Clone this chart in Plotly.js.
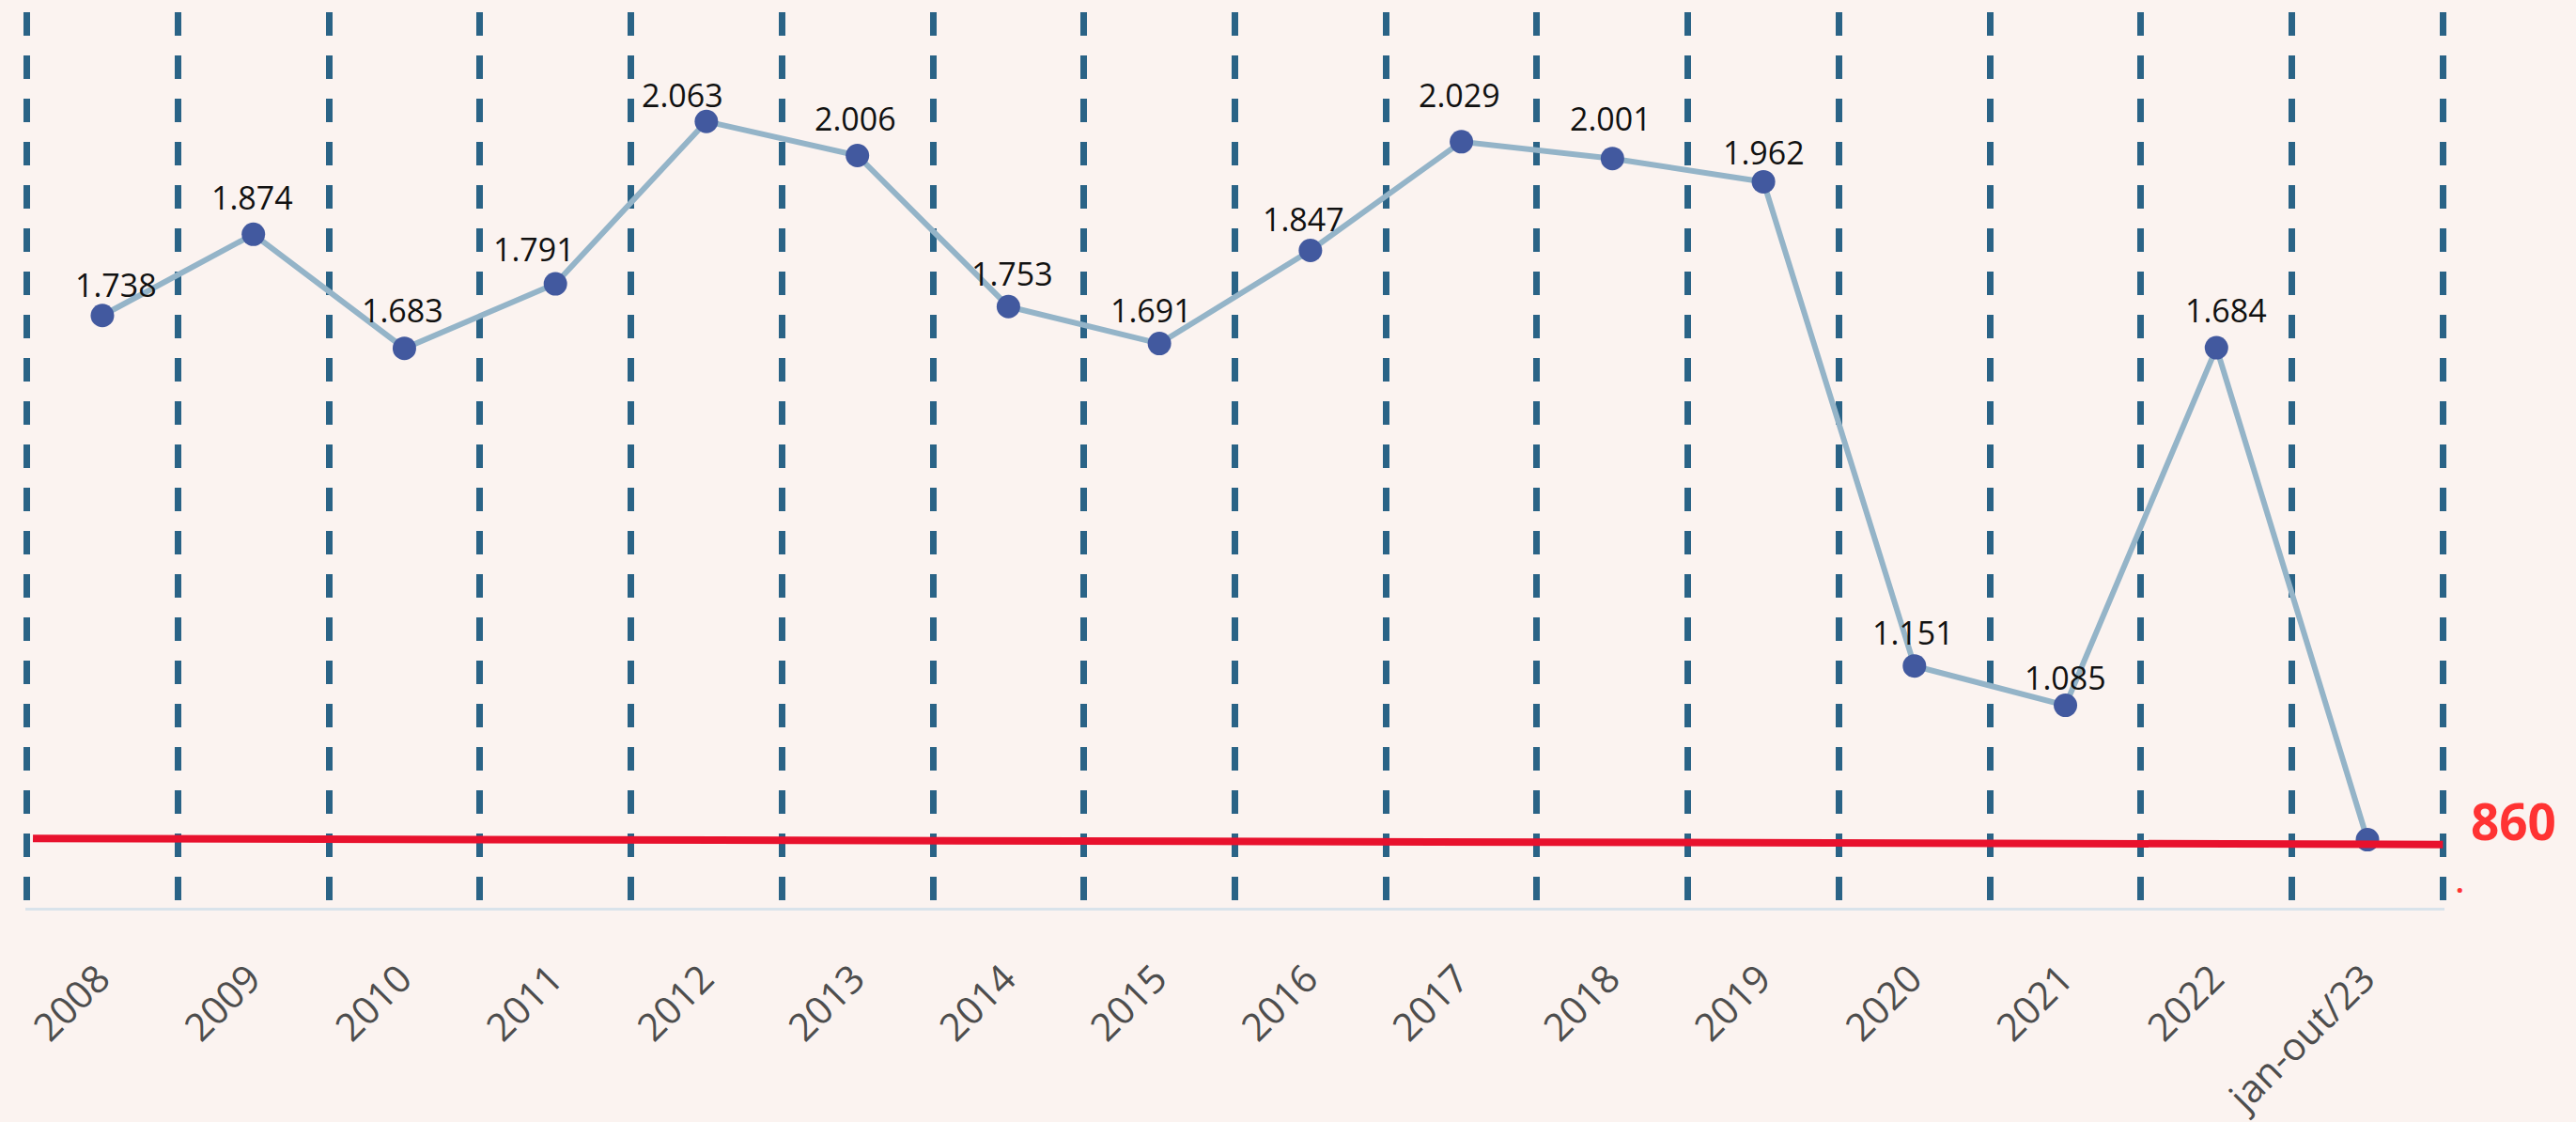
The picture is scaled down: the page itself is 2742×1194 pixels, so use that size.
<!DOCTYPE html>
<html>
<head>
<meta charset="utf-8">
<script src="https://cdn.plot.ly/plotly-3.0.1.min.js"></script>
<style>
  html, body { margin: 0; padding: 0; background: #fbf3f0; }
  #chart { width: 2742px; height: 1194px; }
</style>
</head>
<body>
<div id="chart"></div>
<script>
const categories = ['2008','2009','2010','2011','2012','2013','2014','2015','2016','2017','2018','2019','2020','2021','2022','jan-out/23'];
const values = [1738, 1874, 1683, 1791, 2063, 2006, 1753, 1691, 1847, 2029, 2001, 1962, 1151, 1085, 1684, 860];
const highlightValue = values[values.length - 1];
const referenceLine = [862, 852];

// pixel nudges of the value labels (style only)
const labelDx = [15, -1, -2, -23, -25, -2, 4, -9, -7, -2, -2, 0, -1, 0, 10];
const labelGap = [21, 27, 29, 25, 16, 27, 23, 24, 22, 38, 31, 19, 24, 18, 28];

function fmt(v) {
  return String(v).replace(/\B(?=(\d{3})+(?!\d))/g, '.');
}

const trace = {
  type: 'scatter',
  mode: 'lines+markers',
  x: categories,
  y: values,
  line: { color: '#94b4c8', width: 6 },
  marker: { color: '#42599f', size: 25 },
  cliponaxis: false,
  hoverinfo: 'skip'
};

const valueLabels = labelDx.map((dx, i) => ({
  xref: 'x', yref: 'y',
  x: i, y: values[i],
  xanchor: 'center', yanchor: 'middle',
  xshift: dx, yshift: labelGap[i] + 12,
  text: fmt(values[i]),
  showarrow: false,
  font: { family: 'Open Sans', size: 34, color: '#111111' }
}));

const layout = {
  width: 2742,
  height: 1194,
  paper_bgcolor: '#fbf3f0',
  plot_bgcolor: '#fbf3f0',
  margin: { l: 27, r: 140, t: 13, b: 228 },
  showlegend: false,
  font: { family: 'Open Sans', color: '#4d4d4d' },
  xaxis: {
    type: 'category',
    range: [-0.51, 15.51],
    tickson: 'boundaries',
    showgrid: true,
    gridcolor: '#2a6386',
    gridwidth: 7,
    griddash: '25px,21px',
    showline: true,
    linecolor: '#d9e3eb',
    linewidth: 3,
    ticks: '',
    tickangle: -45,
    ticklabelstandoff: 32,
    ticklabelshift: -4,
    tickfont: { family: 'Open Sans', size: 41, color: '#4d4d4d' },
    zeroline: false,
    fixedrange: true
  },
  yaxis: {
    range: [746, 2246],
    showgrid: false,
    showticklabels: false,
    zeroline: false,
    showline: false,
    ticks: '',
    fixedrange: true
  },
  shapes: [{
    type: 'line',
    xref: 'x', yref: 'y',
    x0: -0.46, x1: 15.5,
    y0: referenceLine[0], y1: referenceLine[1],
    line: { color: '#e8112d', width: 8 },
    layer: 'above'
  }],
  annotations: valueLabels.concat([{
    xref: 'paper', yref: 'y',
    x: 1, y: highlightValue,
    xanchor: 'left', yanchor: 'middle',
    xshift: 26, yshift: 20,
    text: '<b>' + highlightValue + '</b>',
    showarrow: false,
    font: { family: 'Open Sans', size: 53, color: '#ff3333' }
  }, {
    xref: 'paper', yref: 'y',
    x: 1, y: 772,
    xanchor: 'left', yanchor: 'bottom',
    xshift: 10, yshift: -12,
    text: '<b>.</b>',
    showarrow: false,
    font: { family: 'Open Sans', size: 30, color: '#ff3333' }
  }])
};

Plotly.newPlot('chart', [trace], layout, { staticPlot: true, displayModeBar: false });
</script>
</body>
</html>
